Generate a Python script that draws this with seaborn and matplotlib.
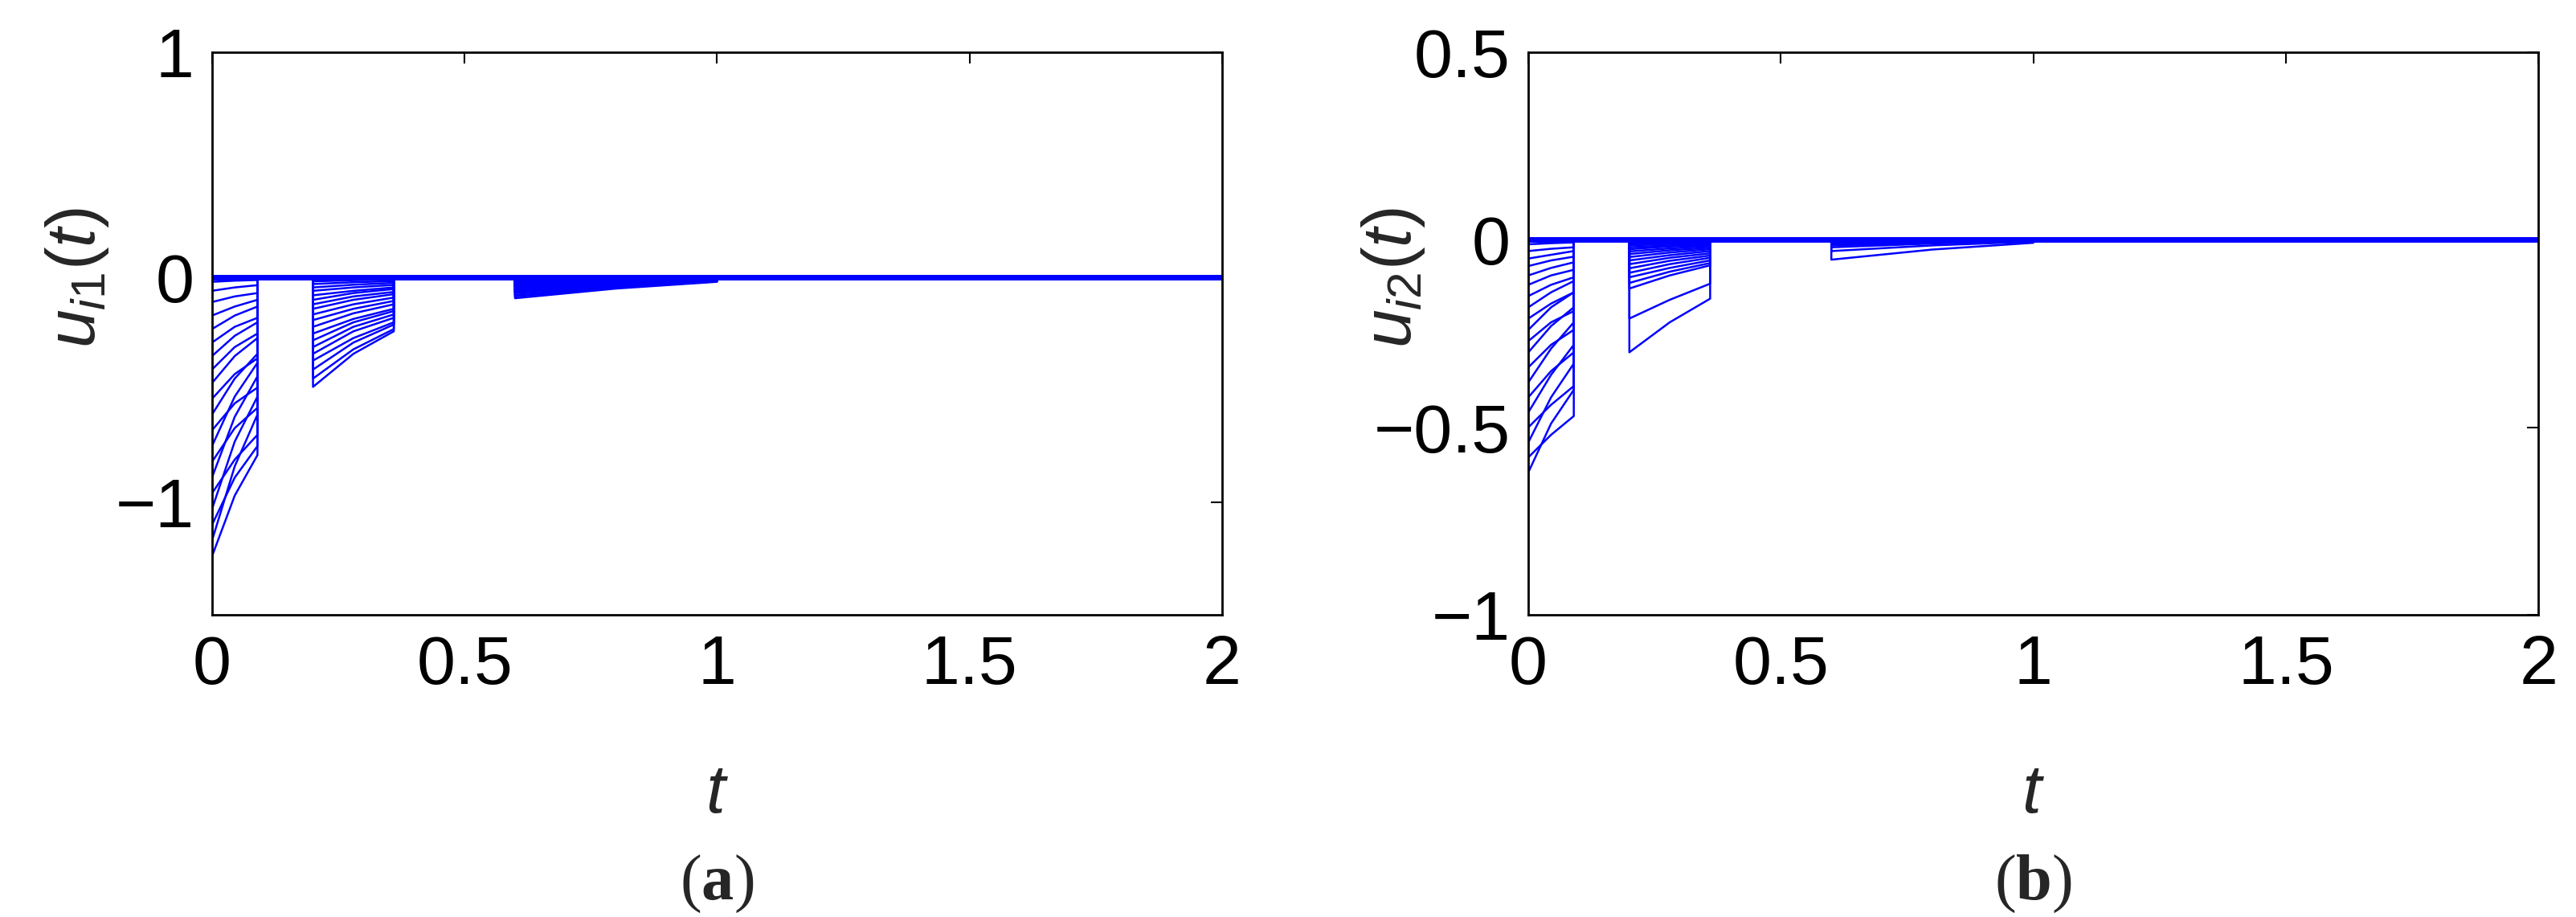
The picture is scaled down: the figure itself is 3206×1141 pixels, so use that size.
import numpy as np
import pandas as pd
import matplotlib
matplotlib.use("Agg")
import matplotlib.pyplot as plt
import seaborn as sns

# ---------------- data ----------------
t_on = [0.0, 0.2, 0.6]        # start of each control interval
t_off = [0.09, 0.36, 1.0]     # end of each control interval
t_end = 2.0

# panel (a): u_i1(t)  -> [value at start, middle, end] of each interval, per agent
ua_seg1 = [[-1.24, -0.97, -0.79], [-1.17, -0.84, -0.61], [-1.10, -0.89, -0.75],
           [-1.03, -0.73, -0.53], [-0.96, -0.81, -0.70], [-0.89, -0.62, -0.44],
           [-0.82, -0.67, -0.58], [-0.75, -0.53, -0.38], [-0.68, -0.56, -0.49],
           [-0.61, -0.45, -0.34], [-0.54, -0.43, -0.36], [-0.47, -0.35, -0.27],
           [-0.41, -0.31, -0.25], [-0.35, -0.26, -0.20], [-0.29, -0.22, -0.18],
           [-0.23, -0.17, -0.13], [-0.17, -0.13, -0.10], [-0.11, -0.085, -0.07],
           [-0.06, -0.045, -0.035], [-0.02, -0.015, -0.012]]
ua_seg2 = [[-0.487, -0.34, -0.24], [-0.45, -0.32, -0.23], [-0.41, -0.29, -0.21],
           [-0.37, -0.27, -0.20], [-0.34, -0.24, -0.18], [-0.31, -0.22, -0.165],
           [-0.28, -0.20, -0.15], [-0.25, -0.185, -0.14], [-0.22, -0.16, -0.12],
           [-0.19, -0.14, -0.105], [-0.165, -0.12, -0.09], [-0.14, -0.10, -0.075],
           [-0.12, -0.085, -0.065], [-0.10, -0.07, -0.052], [-0.08, -0.06, -0.045],
           [-0.06, -0.045, -0.034], [-0.045, -0.033, -0.025], [-0.03, -0.022, -0.017],
           [-0.018, -0.013, -0.01], [-0.008, -0.006, -0.004]]
ua_seg3 = [[-0.093, -0.05, -0.02], [-0.085, -0.046, -0.018], [-0.078, -0.042, -0.016],
           [-0.07, -0.038, -0.014], [-0.063, -0.034, -0.012], [-0.056, -0.03, -0.011],
           [-0.05, -0.027, -0.01], [-0.044, -0.024, -0.009], [-0.038, -0.02, -0.008],
           [-0.032, -0.017, -0.007], [-0.027, -0.015, -0.006], [-0.022, -0.012, -0.005],
           [-0.018, -0.01, -0.004], [-0.014, -0.008, -0.003], [-0.011, -0.006, -0.002],
           [-0.008, -0.004, -0.002], [-0.005, -0.003, -0.001], [-0.003, -0.002, -0.001],
           [-0.002, -0.001, 0.0], [-0.001, -0.0005, 0.0]]

# panel (b): u_i2(t)
ub_seg1 = [[-0.62, -0.49, -0.40], [-0.58, -0.52, -0.47], [-0.54, -0.42, -0.33],
           [-0.50, -0.44, -0.39], [-0.46, -0.36, -0.28], [-0.42, -0.35, -0.30],
           [-0.38, -0.29, -0.22], [-0.34, -0.28, -0.24], [-0.30, -0.23, -0.18],
           [-0.27, -0.22, -0.19], [-0.24, -0.18, -0.14], [-0.21, -0.17, -0.14],
           [-0.18, -0.14, -0.11], [-0.15, -0.12, -0.10], [-0.12, -0.095, -0.08],
           [-0.095, -0.075, -0.06], [-0.07, -0.055, -0.045], [-0.05, -0.04, -0.03],
           [-0.03, -0.024, -0.02], [-0.012, -0.009, -0.007]]
ub_seg2 = [[-0.30, -0.22, -0.157], [-0.21, -0.16, -0.117], [-0.13, -0.095, -0.068],
           [-0.115, -0.085, -0.062], [-0.10, -0.075, -0.055], [-0.088, -0.065, -0.048],
           [-0.076, -0.056, -0.042], [-0.065, -0.048, -0.036], [-0.055, -0.041, -0.03],
           [-0.046, -0.034, -0.025], [-0.038, -0.028, -0.021], [-0.031, -0.023, -0.017],
           [-0.025, -0.018, -0.014], [-0.02, -0.015, -0.011], [-0.015, -0.011, -0.008],
           [-0.011, -0.008, -0.006], [-0.008, -0.006, -0.004], [-0.005, -0.004, -0.003],
           [-0.003, -0.002, -0.001], [-0.001, -0.001, 0.0]]
ub_seg3 = [[-0.053, -0.026, -0.008], [-0.03, -0.015, -0.005], [-0.02, -0.01, -0.003],
           [-0.015, -0.008, -0.002], [-0.012, -0.006, -0.002], [-0.01, -0.005, -0.002],
           [-0.008, -0.004, -0.001], [-0.007, -0.003, -0.001], [-0.006, -0.003, -0.001],
           [-0.005, -0.002, -0.001], [-0.004, -0.002, 0.0], [-0.003, -0.002, 0.0],
           [-0.003, -0.001, 0.0], [-0.002, -0.001, 0.0], [-0.002, -0.001, 0.0],
           [-0.001, -0.001, 0.0], [-0.001, 0.0, 0.0], [-0.001, 0.0, 0.0],
           [0.0, 0.0, 0.0], [0.0, 0.0, 0.0]]

x_ticks = [0, 0.5, 1, 1.5, 2]
x_ticklabels = ["0", "0.5", "1", "1.5", "2"]
ya_ticks = [-1, 0, 1]
ya_ticklabels = ["\u22121", "0", "1"]
yb_ticks = [-1, -0.5, 0, 0.5]
yb_ticklabels = ["\u22121", "\u22120.5", "0", "0.5"]
ylabel_a = r"$u_{i1}(t)$"
ylabel_b = r"$u_{i2}(t)$"
xlabel = r"$t$"
captions = [r"($\mathbf{a}$)", r"($\mathbf{b}$)"]


def build_frame(segs):
    rows = []
    n_agents = len(segs[0])
    for i in range(n_agents):
        ts, us = [], []
        for k, seg in enumerate(segs):
            s, m, e = seg[i]
            a, b = t_on[k], t_off[k]
            if k > 0:
                ts.append(a); us.append(0.0)
            ts += [a, (a + b) / 2, b, b]
            us += [s, m, e, 0.0]
        ts.append(t_end); us.append(0.0)
        for t, u in zip(ts, us):
            rows.append({"agent": i, "t": t, "u": u})
    return pd.DataFrame(rows)


df_a = build_frame([ua_seg1, ua_seg2, ua_seg3])
df_b = build_frame([ub_seg1, ub_seg2, ub_seg3])

# ---------------- style ----------------
sns.set_theme(style="white")
plt.rcParams["font.family"] = ["Liberation Sans", "DejaVu Sans"]
plt.rcParams["mathtext.fontset"] = "custom"
plt.rcParams["mathtext.it"] = "Liberation Sans:italic"
plt.rcParams["mathtext.rm"] = "Liberation Sans"
plt.rcParams["mathtext.bf"] = "Liberation Serif:bold"

BLUE = "#0000ff"
FS = 62

fig = plt.figure(figsize=(32.06, 11.41), dpi=100)
ax_a = fig.add_axes([0.0823, 0.3295, 0.3921, 0.6135])
ax_b = fig.add_axes([0.5933, 0.3295, 0.3921, 0.6135])

panels = [
    (ax_a, df_a, (-1.5, 1), ya_ticks, ya_ticklabels, ylabel_a, captions[0]),
    (ax_b, df_b, (-1, 0.5), yb_ticks, yb_ticklabels, ylabel_b, captions[1]),
]

for ax, df, ylim, yt, ytl, ylab, cap in panels:
    ax.axhline(0, color=BLUE, lw=5, zorder=1)
    sns.lineplot(data=df, x="t", y="u", units="agent", estimator=None, sort=False,
                 color=BLUE, lw=1.8, ax=ax, legend=False, zorder=2)
    ax.set_xlim(0, 2)
    ax.set_ylim(*ylim)
    ax.set_xticks(x_ticks)
    ax.set_xticklabels(x_ticklabels)
    ax.set_yticks(yt)
    ax.set_yticklabels(ytl)
    ax.tick_params(axis="both", direction="in", length=10, width=1.5, labelsize=FS,
                   top=True, right=True, colors="black")
    ax.tick_params(axis="x", pad=17)
    ax.tick_params(axis="y", pad=16)
    for sp in ax.spines.values():
        sp.set_visible(True)
        sp.set_color("black")
        sp.set_linewidth(2.0)
    ax.set_facecolor("white")
    ax.set_xlabel(xlabel, fontsize=FS, labelpad=58)
    ax.set_ylabel(ylab, fontsize=FS)
    ax.yaxis.set_label_coords(-0.10, 0.6)
    bb = ax.get_position()
    fig.text((bb.x0 + bb.x1) / 2, 0.036, cap, ha="center", va="center",
             fontsize=58, family="Liberation Serif")

fig.savefig("out.png", dpi=100, facecolor="white")
